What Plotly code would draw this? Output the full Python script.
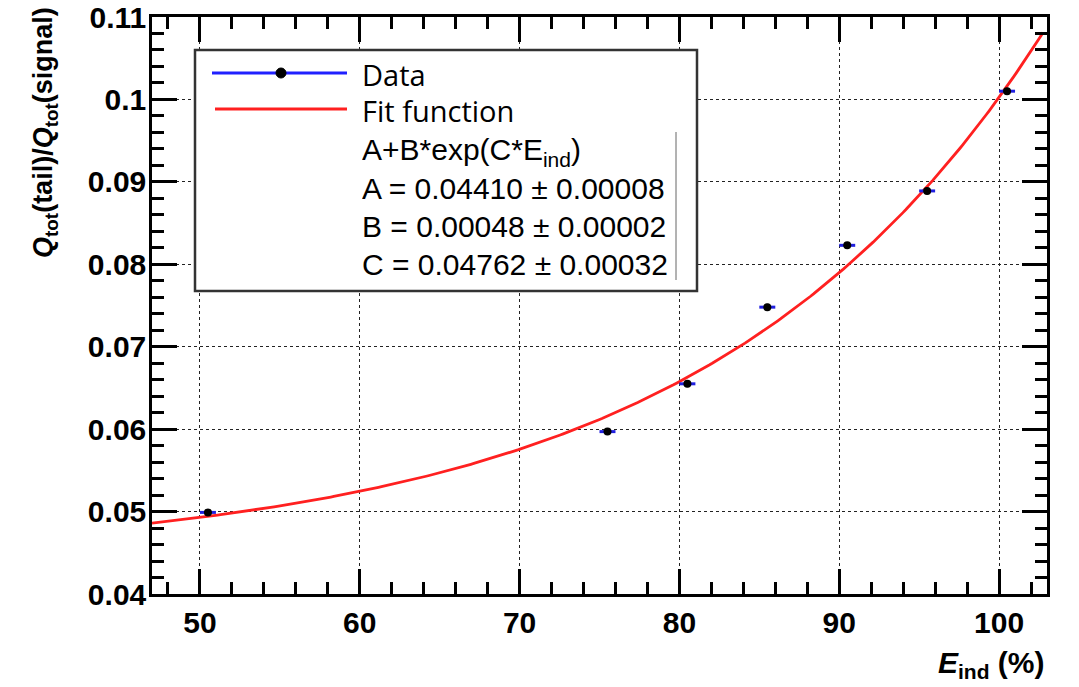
import numpy as np
import plotly.graph_objects as go

# ---------------- data ----------------
e_ind = [50.5, 75.5, 80.5, 85.5, 90.5, 95.5, 100.5]
ratio = [0.0499, 0.0597, 0.0655, 0.0748, 0.0823, 0.0889, 0.1010]
e_err = [0.5, 0.5, 0.5, 0.5, 0.5, 0.5, 0.5]
ratio_err = [0.0004, 0.0004, 0.0004, 0.0004, 0.0004, 0.0004, 0.0004]

# fit parameters (as printed in the legend)
fit_A, fit_B, fit_C = 0.04410, 0.00048, 0.04762
fit_range = [47.0, 102.75]

x_ticks = [50, 60, 70, 80, 90, 100]
y_ticks = [0.04, 0.05, 0.06, 0.07, 0.08, 0.09, 0.1, 0.11]
y_tick_text = ["0.04", "0.05", "0.06", "0.07", "0.08", "0.09", "0.1", "0.11"]

stat_lines = ["A+B*exp(C*E<sub>ind</sub>)",
              "A = 0.04410 \u00b1 0.00008",
              "B = 0.00048 \u00b1 0.00002",
              "C = 0.04762 \u00b1 0.00032"]

# ---------------- layout geometry ----------------
W, H = 1079, 687
L, R, T, B = 152, 1047, 17, 594


def px(x):
    return (x - L) / (R - L)


def py(y):
    return (B - y) / (B - T)


fit_x = np.linspace(fit_range[0], fit_range[1], 300)
fit_y = fit_A + fit_B * np.exp(fit_C * fit_x)

fig = go.Figure()
fig.add_trace(go.Scatter(
    x=fit_x, y=fit_y, mode="lines",
    line=dict(color="#ff2020", width=2.8), showlegend=False, hoverinfo="skip"))
fig.add_trace(go.Scatter(
    x=e_ind, y=ratio, mode="markers",
    marker=dict(color="black", size=8),
    error_x=dict(type="data", array=e_err, color="#2020e0", thickness=3, width=0),
    error_y=dict(type="data", array=ratio_err, color="black", thickness=3, width=0),
    showlegend=False))

tickfont = dict(family="Liberation Sans", size=30, color="black", weight="bold")
axis_common = dict(
    showline=True, linecolor="black", linewidth=2.5, mirror="allticks",
    ticks="inside", ticklen=25, tickwidth=2.5, tickcolor="black",
    showgrid=True, gridcolor="#222222", gridwidth=1.2, griddash="dot",
    zeroline=False, tickfont=tickfont, automargin=False,
)

fig.update_xaxes(range=[47, 103], tickvals=x_ticks,
                 minor=dict(dtick=2, tick0=0, ticks="inside", ticklen=12,
                            tickwidth=2.5, tickcolor="black", showgrid=False),
                 **axis_common)
fig.update_yaxes(range=[0.04, 0.11], tickvals=y_ticks, ticktext=y_tick_text,
                 ticklabelstandoff=-3,
                 minor=dict(dtick=0.002, tick0=0.04, ticks="inside", ticklen=12,
                            tickwidth=2.5, tickcolor="black", showgrid=False),
                 **axis_common)

shapes = []
annotations = []

# legend box
shapes.append(dict(type="rect", xref="paper", yref="paper",
                   x0=px(195), x1=px(697), y0=py(291), y1=py(50),
                   line=dict(color="#333333", width=2.5), fillcolor="white", layer="above"))
# glyphs
shapes.append(dict(type="line", xref="paper", yref="paper",
                   x0=px(212), x1=px(347), y0=py(73), y1=py(73),
                   line=dict(color="#2020ff", width=3), layer="above"))
shapes.append(dict(type="circle", xref="paper", yref="paper",
                   x0=px(276), x1=px(286), y0=py(78), y1=py(68),
                   line=dict(color="black", width=1), fillcolor="black", layer="above"))
shapes.append(dict(type="line", xref="paper", yref="paper",
                   x0=px(215), x1=px(347), y0=py(109), y1=py(109),
                   line=dict(color="#ff2020", width=3), layer="above"))
# thin stat-box edge
shapes.append(dict(type="line", xref="paper", yref="paper",
                   x0=px(676), x1=px(676), y0=py(132), y1=py(280),
                   line=dict(color="#666666", width=1), layer="above"))

annotations.append(dict(x=px(360), y=py(74), xref="paper", yref="paper",
                        text="Data", showarrow=False, xanchor="left", yanchor="middle",
                        height=32, valign="middle",
                        font=dict(family="Open Sans", size=29, color="black")))
annotations.append(dict(x=px(360), y=py(110), xref="paper", yref="paper",
                        text="Fit function", showarrow=False, xanchor="left", yanchor="middle",
                        height=32, valign="middle",
                        font=dict(family="Open Sans", size=29, color="black")))
for txt, yy in zip(stat_lines, [152, 188, 226, 264]):
    annotations.append(dict(x=px(360), y=py(yy), xref="paper", yref="paper",
                            text=txt, showarrow=False, xanchor="left", yanchor="middle",
                            height=34, valign="middle",
                            font=dict(family="Liberation Sans", size=30, color="black")))

# axis titles
annotations.append(dict(
    x=px(45), y=py(133), xref="paper", yref="paper", textangle=-90,
    text="<b><i>Q</i><sub>tot</sub>(tail)/<i>Q</i><sub>tot</sub>(signal)</b>",
    showarrow=False, xanchor="center", yanchor="middle",
    font=dict(family="Liberation Sans", size=27, color="black")))
annotations.append(dict(
    x=px(1047), y=py(664), xref="paper", yref="paper",
    text="<b><i>E</i><sub>ind</sub> (%)</b>",
    showarrow=False, xanchor="right", yanchor="middle",
    font=dict(family="Liberation Sans", size=30, color="black")))

fig.update_layout(
    width=W, height=H,
    margin=dict(l=L, r=W - R, t=T, b=H - B, autoexpand=False),
    paper_bgcolor="white", plot_bgcolor="white",
    shapes=shapes, annotations=annotations,
    showlegend=False,
)

fig.write_html("out.html")
